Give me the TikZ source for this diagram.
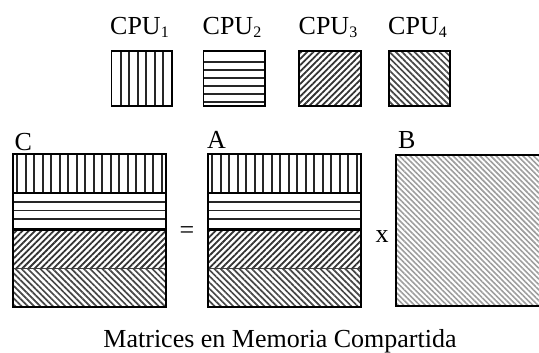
\documentclass[tikz,border=0pt]{standalone}
\usepackage{fontspec}
\setmainfont{Liberation Serif}
\usetikzlibrary{patterns.meta}
\newcommand{\cpusub}[1]{\raisebox{-2.8pt}{\fontsize{16}{16}\selectfont #1}}
\begin{document}
\begin{tikzpicture}[x=1pt,y=-1pt,
  lbl/.style={font=\fontsize{26}{30}\selectfont, inner sep=0pt},
  frame/.style={draw=black, line width=1.8pt},
  vl/.style={line width=1.7pt, draw=black!85},
  hl/.style={line width=1.7pt, draw=black!85},
  nelines/.style={pattern={Lines[angle=45,distance=4.4pt,line width=1.8pt]}, pattern color=black!80},
  nwlines/.style={pattern={Lines[angle=-45,distance=4.4pt,line width=1.7pt]}, pattern color=black!72},
  bpat/.style={pattern={Lines[angle=-45,distance=3.8pt,line width=1.6pt]}, pattern color=black!38},
]
\useasboundingbox (0,0) rectangle (539,353);

% CPU boxes
\foreach \i in {0,...,5} \draw[vl] (120.7+8.5*\i,51) -- ++(0,55);
\draw[frame] (111.5,51) rectangle (172,106);

\foreach \i in {0,...,5} \draw[hl] (203.5,61.7+8*\i) -- (265,61.7+8*\i);
\draw[frame] (203.5,51) rectangle (265,106);

\path[nelines] (299,51) rectangle (361,106);
\draw[frame] (299,51) rectangle (361,106);

\path[nwlines] (389,51) rectangle (450,106);
\draw[frame] (389,51) rectangle (450,106);

% CPU labels
\node[lbl, anchor=base west] (cpu1) at (110,35) {CPU\cpusub{1}};
\node[lbl, anchor=base west] (cpu2) at (202.5,35) {CPU\cpusub{2}};
\node[lbl, anchor=base west] (cpu3) at (298.5,35) {CPU\cpusub{3}};
\node[lbl, anchor=base west] (cpu4) at (388,35) {CPU\cpusub{4}};

% Matrices C and A
\foreach \xa in {13,208} {
  \foreach \i in {0,...,17} \draw[vl] (\xa+4.25+8.5*\i,154) -- (\xa+4.25+8.5*\i,193);
  \foreach \i in {1,2,3} \draw[hl] (\xa,193+8.7*\i) -- (\xa+153,193+8.7*\i);
  \path[nelines] (\xa,229) rectangle (\xa+153,268);
  \path[nwlines] (\xa,268) rectangle (\xa+153,307);
  \draw[line width=2pt] (\xa,193) -- (\xa+153,193);
  \draw[line width=3pt] (\xa,229) -- (\xa+153,229);
  \draw[line width=1pt, black!75] (\xa,268) -- (\xa+153,268);
  \draw[frame] (\xa,154) rectangle (\xa+153,307);
}

% Matrix B
\begin{scope}
  \clip (0,0) rectangle (539,353);
  \path[bpat] (396,155) rectangle (560,306);
  \draw[frame] (396,155) rectangle (560,306);
\end{scope}

% Labels
\node[lbl, anchor=base west] (lc) at (14.5,150) {C};
\node[lbl, anchor=base west] (la) at (207,149) {A};
\node[lbl, anchor=base west] (lb) at (398,149) {B};
\node[lbl] (eq) at (187,233) {=};
\node[lbl, anchor=base] (times) at (382,242) {x};
\node[lbl, anchor=base] (cap) at (280,347) {Matrices en Memoria Compartida};
\end{tikzpicture}
\end{document}
